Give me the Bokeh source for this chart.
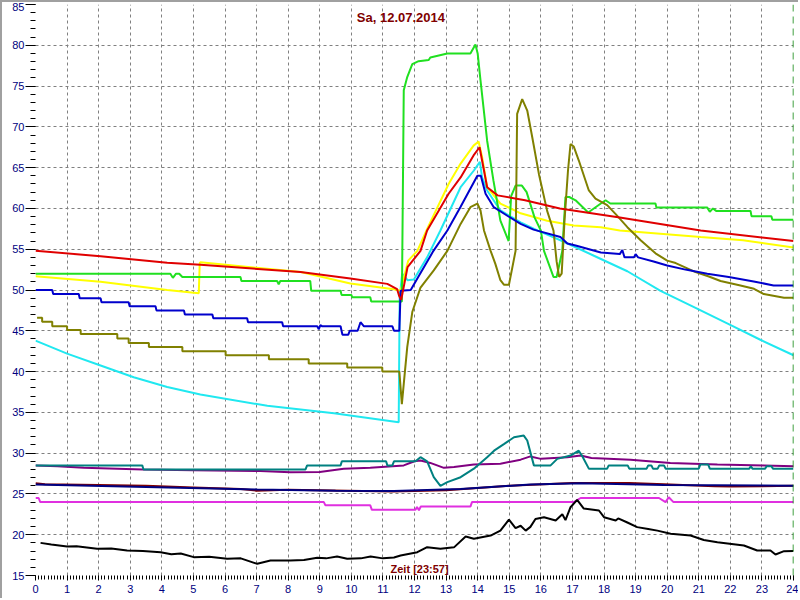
from bokeh.plotting import figure
from bokeh.models import Range1d, SingleIntervalTicker, FixedTicker, Label, Span
from bokeh.embed import file_html
from bokeh.resources import INLINE
import math

# ---------------- data (hours, deg C) ----------------
title_text = "Sa, 12.07.2014"
xlabel_text = "Zeit [23:57]"
ylabel_text = "°C"
now_hour = 24.0

red_h = [0, 2.06, 4.17, 5.22, 8.39, 9.97, 11.14, 11.45, 11.52, 11.58, 11.78, 12.19, 12.4, 13.08, 13.46, 13.87,
         14.06, 14.3, 14.63, 15.5, 16.6, 18.5, 21.06, 24]
red_t = [54.8, 54.15, 53.35, 53.1, 52.2, 51.4, 50.75, 50.1, 49.2, 48.8, 52.8, 54.8, 57.3, 61.8, 63.8, 66.5,
         67.5, 62.6, 61.6, 61.0, 60.0, 58.9, 57.3, 56.0]

green_h = [0, 4.27, 4.35, 4.45, 4.55, 4.65, 6.49, 6.52, 7.65, 7.7, 7.75, 8.7, 8.73, 9.66, 9.69, 10.0, 10.03,
           10.6, 10.63, 11.6, 11.66, 11.77, 11.93, 12.13, 12.45, 12.5, 13.04, 13.77, 13.93, 14.0, 14.09, 14.3,
           14.5, 14.72, 14.98, 15.06, 15.2, 15.4, 15.55, 15.8, 16.0, 16.1, 16.4, 16.5, 16.68, 16.78, 16.9, 17.1,
           17.5, 17.9, 18.05, 18.2, 19.63, 19.66, 21.27, 21.35, 21.45, 21.55, 22.64, 22.67, 23.3, 23.33, 24]
green_t = [52.0, 52.0, 51.5, 52.0, 52.0, 51.6, 51.6, 51.1, 51.1, 50.7, 51.1, 51.1, 49.9, 49.9, 49.4, 49.4,
           49.1, 49.1, 48.6, 48.6, 74.5, 76.1, 77.7, 78.05, 78.2, 78.5, 79.0, 79.0, 80.1, 79.0, 75.7, 68.3,
           63.4, 58.5, 56.0, 61.5, 62.8, 62.8, 62.0, 58.9, 57.3, 54.8, 51.6, 51.6, 54.8, 61.4, 61.4, 61.0,
           59.5, 60.6, 61.0, 60.6, 60.6, 60.1, 60.1, 59.6, 60.0, 59.7, 59.7, 59.05, 59.05, 58.6, 58.6]

yellow_h = [0, 2.06, 4.17, 5.17, 5.2, 5.22, 8.4, 9.97, 11.35, 11.56, 11.8, 12.09, 12.4, 13.08, 13.46, 13.87,
            14.03, 14.14, 14.3, 14.72, 15.36, 16.2, 17.04, 17.9, 18.5, 21.06, 22.4, 24]
yellow_t = [51.7, 51.0, 50.0, 49.6, 53.3, 53.4, 52.2, 50.8, 50.1, 49.9, 53.6, 54.8, 57.5, 63.0, 65.5, 67.7,
            68.2, 66.3, 62.6, 60.6, 59.4, 58.5, 57.9, 57.7, 57.3, 56.5, 56.1, 55.2]

blue_h = [0, 0.53, 0.56, 1.37, 1.4, 2.06, 2.09, 2.95, 2.98, 3.8, 3.83, 4.7, 4.73, 5.6, 5.63, 6.7, 6.73, 7.81,
          7.84, 8.92, 8.97, 9.02, 9.08, 9.66, 9.69, 9.72, 9.9, 9.95, 10.2, 10.29, 10.4, 11.3, 11.35, 11.52,
          11.56, 11.88, 12.09, 12.6, 13.04, 13.46, 13.99, 14.1, 14.25, 14.51, 14.94, 15.36, 15.77, 16.62,
          16.84, 17.1, 17.9, 18.5, 18.58, 18.65, 18.95, 19.0, 19.08, 19.57, 20.0, 20.58, 21.27, 21.95, 22.74,
          23.37, 24]
blue_t = [50.0, 50.0, 49.5, 49.5, 49.0, 49.0, 48.5, 48.5, 48.0, 48.0, 47.5, 47.5, 47.0, 47.0, 46.55, 46.55,
          46.05, 46.05, 45.55, 45.55, 45.2, 45.7, 45.55, 45.55, 45.0, 44.5, 44.5, 45.0, 45.0, 46.05, 45.55,
          45.55, 45.0, 45.0, 49.9, 50.0, 51.4, 54.8, 57.3, 60.2, 64.0, 64.0, 61.8, 60.15, 59.1, 58.1, 57.4,
          56.5, 55.7, 55.45, 54.6, 54.4, 54.9, 54.0, 54.0, 54.4, 54.0, 53.5, 53.0, 52.5, 52.0, 51.6, 51.05,
          50.55, 50.55]

cyan_h = [0, 1.0, 2.06, 3.11, 4.17, 5.22, 7.34, 9.45, 11.5, 11.53, 11.61, 11.78, 11.98, 12.4, 12.82, 13.46,
          13.88, 14.07, 14.14, 14.3, 14.72, 15.36, 15.89, 16.62, 17.68, 18.74, 19.79, 20.85, 21.9, 22.95, 24]
cyan_t = [43.8, 42.2, 40.75, 39.3, 38.1, 37.2, 35.8, 34.9, 33.8, 49.0, 52.0, 51.2, 51.3, 54.0, 57.3, 62.6,
          64.65, 65.7, 63.8, 62.2, 59.75, 58.3, 57.3, 56.1, 54.2, 52.3, 49.9, 47.9, 45.9, 43.9, 42.0]

olive_h = [0.05, 0.21, 0.21, 0.53, 0.53, 1.0, 1.0, 1.43, 1.43, 2.59, 2.59, 2.95, 2.95, 3.59, 3.59, 4.65, 4.65,
           6.02, 6.02, 7.39, 7.39, 8.65, 8.65, 9.87, 9.87, 10.98, 10.98, 11.52, 11.6, 11.66, 11.77, 11.93,
           12.19, 12.61, 13.04, 13.46, 13.77, 13.99, 14.09, 14.2, 14.41, 14.56, 14.72, 14.83, 14.99, 15.1,
           15.2, 15.25, 15.41, 15.57, 15.73, 15.94, 16.2, 16.4, 16.5, 16.58, 16.66, 16.75, 16.86, 16.94,
           17.04, 17.2, 17.52, 17.73, 18.1, 18.37, 18.74, 19.16, 19.63, 20.0, 20.27, 20.9, 21.32, 21.69,
           22.32, 22.75, 23.06, 23.7, 24]
olive_t = [46.6, 46.6, 46.1, 46.1, 45.56, 45.56, 45.1, 45.1, 44.6, 44.6, 44.05, 44.05, 43.5, 43.5, 43.0, 43.0,
           42.5, 42.5, 42.0, 42.0, 41.5, 41.5, 41.0, 41.0, 40.5, 40.5, 40.0, 40.0, 36.0, 38.5, 43.0, 47.3,
           50.3, 52.4, 54.8, 58.1, 60.15, 60.6, 59.75, 57.3, 54.8, 53.2, 51.2, 50.65, 50.65, 52.8,
           54.8, 71.6, 73.4, 72.0, 68.7, 64.2, 59.7, 57.3, 53.5, 51.6, 52.0, 58.5, 64.65, 67.9,
           67.6, 65.9, 62.2, 61.2, 60.4, 59.3, 57.7, 56.1, 54.5, 53.6, 53.3, 52.2, 51.65, 51.1,
           50.55, 50.15, 49.5, 49.05, 49.05]

teal_h = [0, 3.38, 3.42, 8.55, 8.6, 9.66, 9.7, 11.1, 11.14, 11.3, 11.35, 12.03, 12.19, 12.4, 12.61, 12.82,
          13.04, 13.46, 13.88, 14.3, 14.52, 14.83, 15.15, 15.46, 15.57, 15.78, 16.31, 16.52, 16.94, 17.2,
          17.3, 17.52, 18.1, 18.15, 18.75, 18.8, 19.35, 19.4, 19.5, 19.55, 19.7, 19.75, 19.9, 19.95, 21.0,
          21.05, 21.3, 21.35, 22.6, 22.65, 22.7, 23.1, 23.15, 23.3, 23.35, 24]
teal_t = [28.5, 28.5, 28.0, 28.0, 28.5, 28.5, 29.0, 29.0, 28.5, 28.5, 29.0, 29.0, 29.5, 29.0, 27.05, 26.0,
          26.45, 27.05, 28.1, 29.5, 30.3, 31.1, 31.95, 32.15, 31.55, 28.5, 28.5, 29.3, 29.7, 30.3,
          29.7, 28.1, 28.1, 28.5, 28.5, 28.1, 28.1, 28.5, 28.5, 28.1, 28.1, 28.5, 28.5, 28.1, 28.1,
          28.6, 28.6, 28.1, 28.1, 28.4, 28.1, 28.1, 28.4, 28.4, 28.1, 28.1]

purple_h = [0, 0.7, 1.53, 3.4, 5.0, 7.12, 8.07, 9.0, 9.76, 10.6, 11.66, 12.0, 12.19, 12.5, 12.93, 13.25,
            13.88, 14.72, 15.36, 15.67, 16.0, 16.84, 17.26, 17.6, 18.84, 20.1, 21.59, 23.06, 24]
purple_t = [28.5, 28.4, 28.2, 28.0, 27.9, 27.8, 27.65, 27.7, 28.1, 28.2, 28.5, 29.0, 29.1, 28.8, 28.2, 28.3,
            28.6, 28.7, 29.2, 29.6, 29.3, 29.5, 29.7, 29.4, 29.2, 28.8, 28.6, 28.5, 28.4]

maroon_h = [0, 0.3, 2.0, 3.5, 5.0, 6.5, 7.0, 8.0, 11.3, 13.0, 15.0, 17.0, 18.8, 19.9, 21.5, 22.0, 24]
maroon_t = [26.3, 26.2, 26.1, 26.0, 25.8, 25.6, 25.4, 25.5, 25.3, 25.45, 26.0, 26.35, 26.35, 26.2, 25.95,
            25.9, 26.0]

navy_h = [0, 3.5, 7.02, 9.5, 11.35, 13.46, 15.67, 17.26, 19.9, 24]
navy_t = [26.15, 25.85, 25.55, 25.4, 25.35, 25.6, 26.15, 26.3, 26.1, 26.0]

magenta_h = [0, 0.1, 0.15, 9.13, 9.18, 10.6, 10.65, 12.03, 12.08, 12.14, 12.2, 13.77, 13.82, 17.04, 17.26,
             19.74, 19.95, 20.05, 20.2, 24]
magenta_t = [24.5, 24.5, 24.0, 24.0, 23.6, 23.6, 23.05, 23.05, 23.4, 23.0, 23.45, 23.45, 24.0, 24.0, 24.5,
             24.5, 24.0, 24.6, 24.0, 24.0]

black_h = [0.16, 0.5, 1.0, 1.3, 1.95, 2.4, 2.9, 3.4, 3.96, 4.3, 4.6, 5.01, 5.5, 6.07, 6.5, 7.02, 7.44, 8.07,
           8.5, 8.92, 9.2, 9.55, 9.87, 10.3, 10.61, 11.0, 11.35, 11.56, 12.09, 12.4, 12.82, 13.25, 13.62,
           13.88, 14.41, 14.72, 14.99, 15.2, 15.36, 15.52, 15.67, 15.83, 16.1, 16.47, 16.68, 16.78, 16.94,
           17.15, 17.36, 17.84, 18.0, 18.37, 18.45, 18.74, 19.05, 19.4, 19.69, 20.11, 20.74, 21.16, 21.59,
           22.43, 22.85, 23.27, 23.43, 23.7, 24.0]
black_t = [19.0, 18.8, 18.55, 18.6, 18.27, 18.3, 18.07, 18.0, 17.85, 17.6, 17.7, 17.25, 17.3, 17.05, 17.1,
           16.43, 16.84, 16.85, 16.9, 17.17, 17.1, 17.33, 17.05, 17.1, 17.33, 17.1, 17.2, 17.45, 17.86, 18.47,
           18.27, 18.45, 19.78, 19.5, 19.9, 20.5, 21.85, 20.8, 21.1, 20.5, 20.96, 21.93, 22.13, 21.74, 22.5,
           21.8, 23.37, 24.27, 23.2, 22.97, 22.15, 21.74, 22.0, 21.5, 20.93, 20.7, 20.5, 20.12, 19.9, 19.36,
           19.08, 18.68, 18.07, 18.07, 17.57, 17.98, 18.0]

x_ticks_grid = list(range(1, 24))
y_ticks_grid = [20, 25, 30, 35, 40, 45, 50, 55, 60, 65, 70, 75, 80]

# ---------------- figure ----------------
FONT = "Liberation Sans"
p = figure(width=798, height=598, output_backend="svg", toolbar_location=None,
           x_range=Range1d(0, 24), y_range=Range1d(15, 85),
           min_border_left=33, min_border_right=7, min_border_top=2, min_border_bottom=25,
           background_fill_color="white", border_fill_color="white")
p.outline_line_color = None

p.xaxis.ticker = SingleIntervalTicker(interval=1, num_minor_ticks=10)
p.yaxis.ticker = SingleIntervalTicker(interval=5, num_minor_ticks=5)
for ax in (p.xaxis, p.yaxis):
    ax.axis_line_color = None
    ax.major_tick_line_color = "black"
    ax.minor_tick_line_color = "black"
    ax.major_tick_in = 0
    ax.minor_tick_in = 0
    ax.major_label_text_color = "#000080"
    ax.major_label_text_font = FONT
    ax.major_label_text_font_size = "11px"
p.xaxis.major_tick_out = 5
p.xaxis.minor_tick_out = 4
p.xaxis.major_label_standoff = 4
p.yaxis.major_tick_out = 10
p.yaxis.minor_tick_out = 5
p.yaxis.major_label_standoff = 1

p.xgrid.ticker = FixedTicker(ticks=x_ticks_grid)
p.ygrid.ticker = FixedTicker(ticks=y_ticks_grid)
for g in (p.xgrid, p.ygrid):
    g.grid_line_color = "#808080"
    g.grid_line_dash = "3 3"
    g.grid_line_width = 1

series = [
    (cyan_h, cyan_t, "#20e8f0"),
    (yellow_h, yellow_t, "#ffff00"),
    (green_h, green_t, "#20e020"),
    (olive_h, olive_t, "#808000"),
    (blue_h, blue_t, "#0000cc"),
    (red_h, red_t, "#e00000"),
    (purple_h, purple_t, "#800080"),
    (teal_h, teal_t, "#008080"),
    (maroon_h, maroon_t, "#800000"),
    (navy_h, navy_t, "#000080"),
    (magenta_h, magenta_t, "#e030e0"),
    (black_h, black_t, "#000000"),
]
for hx, ty, col in series:
    p.line(hx, ty, line_color=col, line_width=2)

p.add_layout(Span(location=now_hour, dimension="height", line_color="#008000",
                  line_dash="7 5", line_width=1.5))

p.add_layout(Label(x=11.57, y=83.4, text=title_text, text_align="center", text_baseline="middle",
                   text_color="#800000", text_font=FONT, text_font_size="13px",
                   text_font_style="bold"))
p.add_layout(Label(x=12.16, y=15.75, text=xlabel_text, text_align="center", text_baseline="middle",
                   text_color="#800000", text_font=FONT, text_font_size="11px",
                   text_font_style="bold"))
# y-axis unit, rotated, placed just left of the tick labels
p.add_layout(Label(x=0, y=50, x_offset=-25, text=ylabel_text, angle=math.pi / 2,
                   text_align="center", text_baseline="middle",
                   text_color="#800000", text_font=FONT, text_font_size="12px"))

p.styles = {"border-top": "2px solid #a0a0a0", "border-left": "2px solid #a0a0a0"}

open("out.html", "w").write(file_html(p, INLINE))
